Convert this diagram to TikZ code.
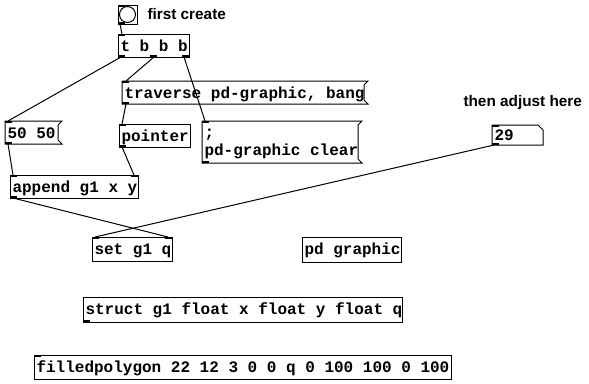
\documentclass[tikz,border=0pt]{standalone}
\usepackage{fontspec}
\newfontfamily\pdmono{Liberation Mono}
\newfontfamily\pdsans{Liberation Sans}
\usetikzlibrary{calc,fit}
% box from (x1,y1) to (x2,y2), image pixel coordinates
\newcommand\pdrect[6][]{\path (#3,#4) coordinate (#2a) (#5,#6) coordinate (#2b);
  \node[pdnode,#1,fit=(#2a)(#2b)] (#2) {};}
\newcommand\pdmsg[1]{\draw (#1.north west) -- ($(#1.north east)+(4,0)$) -- ($(#1.north east)+(0,4)$)
  -- ($(#1.south east)+(0,-4)$) -- ($(#1.south east)+(4,0)$) -- (#1.south west) -- cycle;}
\newcommand\pdin[2]{\fill ($(#1.north west)+(#2,0)$) rectangle ++(7,2);}
\newcommand\pdout[2]{\fill ($(#1.south west)+(#2,0)$) rectangle ++(7,-2);}
\begin{document}
\begin{tikzpicture}[x=0.75pt,y=-0.75pt,line width=0.75pt,
  pdnode/.style={inner sep=0pt,outer sep=0pt},
  obj/.style={draw},
  pdlabel/.style={anchor=base west,inner sep=0pt,font=\pdmono\bfseries\fontsize{12pt}{13.5pt}\selectfont},
  note/.style={anchor=base west,inner sep=0pt,font=\pdsans\bfseries\fontsize{11.5pt}{13pt}\selectfont},
  conn/.style={line width=0.75pt}]
\fill[white] (0,0) rectangle (589,383);
\useasboundingbox (0,0) rectangle (589,383);

% bang
\pdrect[obj]{bang}{118}{5}{137}{24}
\draw (bang.center) circle[radius=6pt];
\pdin{bang}{0}\pdout{bang}{0}
\node[note] (first) at (147,19) {first create};

% t b b b
\pdrect[obj]{tbbb}{118}{34}{189}{57}
\node[pdlabel] (tbbbt) at ($(tbbb.north west)+(2,17)$) {t b b b};
\pdin{tbbb}{0}\pdout{tbbb}{0}\pdout{tbbb}{32}\pdout{tbbb}{64}

% traverse message
\pdrect{trav}{122}{81}{364}{104}
\pdmsg{trav}
\node[pdlabel] (travt) at ($(trav.north west)+(2,17)$) {traverse pd-graphic, bang};
\pdin{trav}{0}\pdout{trav}{0}

% 50 50 message
\pdrect{fifty}{5}{121}{58}{144}
\pdmsg{fifty}
\node[pdlabel] (fiftyt) at ($(fifty.north west)+(2,17)$) {50 50};
\pdin{fifty}{0}\pdout{fifty}{0}

% pointer
\pdrect[obj]{ptr}{119}{124}{190}{147}
\node[pdlabel] (ptrt) at ($(ptr.north west)+(2,17)$) {pointer};
\pdin{ptr}{0}\pdout{ptr}{0}

% ; pd-graphic clear message
\pdrect{clr}{202}{121}{358}{163}
\pdmsg{clr}
\node[pdlabel] (clrt) at ($(clr.north west)+(2,16)$)
  {\vtop{\baselineskip=13.5pt\hbox{;}\hbox{pd-graphic clear}}};
\pdin{clr}{0}\pdout{clr}{0}

% append
\pdrect[obj]{app}{10}{175}{138}{198}
\node[pdlabel] (appt) at ($(app.north west)+(2,17)$) {append g1 x y};
\pdin{app}{0}\pdin{app}{121}\pdout{app}{0}

% set
\pdrect[obj]{set}{92}{237}{172}{261}
\node[pdlabel] (sett) at ($(set.north west)+(2,17)$) {set g1 q};
\pdin{set}{0}\pdin{set}{73}

% pd graphic
\pdrect[obj]{pdg}{302}{237}{401}{262}
\node[pdlabel] (pdgt) at ($(pdg.north west)+(2,17)$) {pd graphic};

% struct
\pdrect[obj]{struct}{83}{297}{402}{322}
\node[pdlabel] (structt) at ($(struct.north west)+(2,17)$) {struct g1 float x float y float q};
\pdout{struct}{0}

% filledpolygon
\pdrect[obj]{poly}{34}{355}{451}{379}
\node[pdlabel] (polyt) at ($(poly.north west)+(2,17)$) {filledpolygon 22 12 3 0 0 q 0 100 100 0 100};
\pdin{poly}{0}

% number box
\pdrect{num}{492}{125}{543}{145}
\draw (num.north west) -- ($(num.north east)+(-5,0)$) -- ($(num.north east)+(0,5)$)
  -- (num.south east) -- (num.south west) -- cycle;
\node[pdlabel] (numt) at ($(num.north west)+(2,15)$) {29};
\pdin{num}{0}\pdout{num}{0}
\node[note] (adjust) at (463,106) {then adjust here};

% connections
\draw[conn] ($(bang.south west)+(2,0)$) -- ($(tbbb.north west)+(4,0)$);
\draw[conn] ($(tbbb.south west)+(3,0)$) -- ($(fifty.north west)+(3,0)$);
\draw[conn] ($(tbbb.south west)+(36,0)$) -- ($(trav.north west)+(4,0)$);
\draw[conn] ($(tbbb.south west)+(66,0)$) -- ($(clr.north west)+(3,0)$);
\draw[conn] ($(trav.south west)+(4,0)$) -- ($(ptr.north west)+(3,0)$);
\draw[conn] ($(fifty.south west)+(3,0)$) -- ($(app.north west)+(3,0)$);
\draw[conn] ($(ptr.south west)+(3,0)$) -- ($(app.north west)+(124,0)$);
\draw[conn] ($(app.south west)+(3,0)$) -- ($(set.north west)+(76,0)$);
\draw[conn] ($(num.south west)+(2,0)$) -- ($(set.north west)+(3,0)$);
\end{tikzpicture}
\end{document}
